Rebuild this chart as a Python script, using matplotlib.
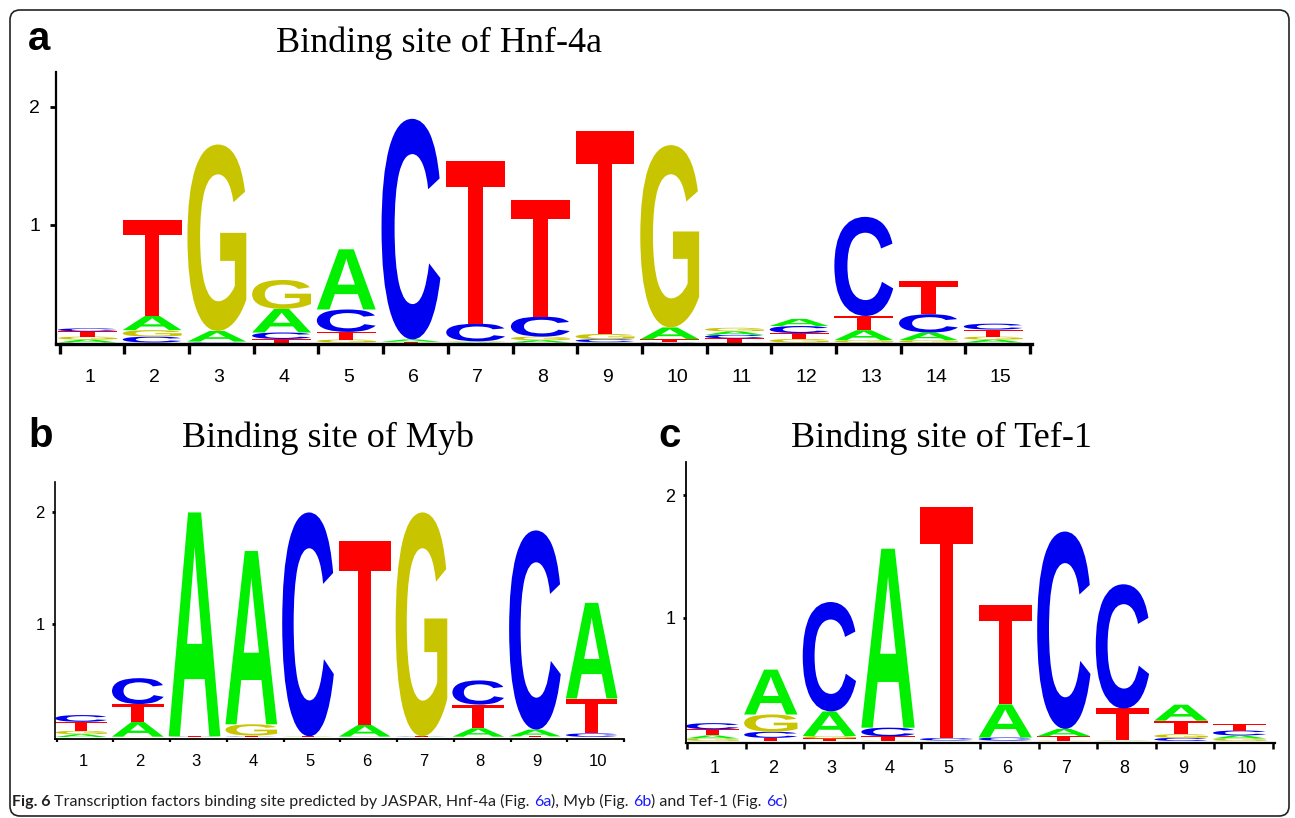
import matplotlib
matplotlib.use("Agg")
import matplotlib.pyplot as plt
from matplotlib.textpath import TextPath
from matplotlib.font_manager import FontProperties, findfont
from matplotlib.patches import PathPatch, FancyBboxPatch
from matplotlib.transforms import Affine2D

W, H = 1295, 818

# ---- data: letter heights (bits) per position, and stacking order bottom->top
hnf4a_order = ["AGTC", "CGAT", "CTAG", "TCAG", "GTCA", "TGAC", "AGCT", "AGCT",
               "ACGT", "CTAG", "TCAG", "GTCA", "GATC", "GACT", "AGTC"]
hnf4a_A = [0.025, 0.12, 0.09, 0.20, 0.51, 0.02, 0.005, 0.02, 0.003, 0.10, 0.03, 0.06, 0.085, 0.065, 0.025]
hnf4a_C = [0.025, 0.05, 0.004, 0.055, 0.19, 1.87, 0.15, 0.17, 0.025, 0.003, 0.03, 0.06, 0.84, 0.155, 0.05]
hnf4a_G = [0.025, 0.055, 1.58, 0.245, 0.025, 0.003, 0.005, 0.03, 0.045, 1.545, 0.03, 0.03, 0.02, 0.02, 0.025]
hnf4a_T = [0.045, 0.815, 0.004, 0.03, 0.065, 0.003, 1.38, 0.99, 1.72, 0.025, 0.035, 0.05, 0.12, 0.28, 0.06]

myb_order = ["AGTC", "GATC", "CGTA", "CTGA", "AGTC", "CGAT", "ACTG", "GATC", "GTAC", "GCTA"]
myb_A = [0.025, 0.13, 1.99, 1.54, 0.002, 0.105, 0.002, 0.075, 0.06, 0.85]
myb_C = [0.06, 0.23, 0.002, 0.003, 1.99, 0.002, 0.002, 0.215, 1.77, 0.03]
myb_G = [0.03, 0.003, 0.002, 0.10, 0.002, 0.002, 1.99, 0.003, 0.003, 0.002]
myb_T = [0.08, 0.16, 0.002, 0.01, 0.002, 1.635, 0.002, 0.21, 0.003, 0.31]

tef1_order = ["GATC", "TCGA", "TGAC", "GTCA", "AGCT", "GCAT", "GTAC", "AGTC", "CGTA", "GACT"]
tef1_A = [0.025, 0.365, 0.20, 1.455, 0.002, 0.27, 0.06, 0.002, 0.13, 0.025]
tef1_C = [0.05, 0.05, 0.89, 0.07, 0.02, 0.025, 1.605, 1.01, 0.025, 0.04]
tef1_G = [0.02, 0.14, 0.02, 0.003, 0.002, 0.003, 0.003, 0.002, 0.03, 0.02]
tef1_T = [0.05, 0.025, 0.02, 0.035, 1.88, 0.805, 0.035, 0.26, 0.11, 0.05]

titles = ["Binding site of Hnf-4a", "Binding site of Myb", "Binding site of Tef-1"]
panel_tags = ["a", "b", "c"]
base_colors = {"A": "#00f000", "C": "#0000f0", "G": "#c8c400", "T": "#ff0000"}

cap_font = "Lato"
tick_font = "Liberation Sans"
letter_font = FontProperties(family="Liberation Sans", weight="bold")


def draw_letter(ax, ch, xc, y0, w, h):
    if h <= 0:
        return
    tp = TextPath((0, 0), ch, size=1, prop=letter_font)
    bb = tp.get_extents()
    tr = (Affine2D().translate(-bb.x0, -bb.y0)
          .scale(w / bb.width, h / bb.height)
          .translate(xc - w / 2, y0))
    ax.add_patch(PathPatch(tr.transform_path(tp), facecolor=base_colors[ch],
                           edgecolor="none", lw=0))


def px_axes(left, right, top, bottom):
    return fig.add_axes([left / W, (H - bottom) / H, (right - left) / W, (bottom - top) / H])


def logo(ax, order, heights, xlim, ylim, style):
    n = len(order)
    for i, stack in enumerate(order):
        y = 0.0
        for ch in stack:
            h = heights[ch][i]
            draw_letter(ax, ch, i + 1, y, 0.91, h)
            y += h
    ax.set_xlim(*xlim)
    ax.set_ylim(*ylim)
    for s in ["top", "right"]:
        ax.spines[s].set_visible(False)
    ax.spines["left"].set_linewidth(style["lw_left"])
    ax.spines["bottom"].set_linewidth(style["lw_bottom"])
    # tick marks at column boundaries, numbers under the columns
    ax.set_xticks([k + 0.57 for k in range(n + 1)])
    ax.set_xticklabels([])
    ax.set_xticks([k + 1 - 0.05 for k in range(n)], [str(k + 1) for k in range(n)], minor=True)
    ax.tick_params(axis="x", which="major", direction="out", length=style["xlen"],
                   width=style["xw"], color="black")
    ax.tick_params(axis="x", which="minor", length=0, pad=style["xpad"],
                   labelsize=style["fs"])
    for lab in ax.get_xticklabels(minor=True):
        lab.set_ha("left")
        lab.set_family(tick_font)
    ax.set_yticks([1, 2], ["1", "2"])
    ax.tick_params(axis="y", direction="out", length=style["ylen"], width=2,
                   pad=style["ypad"], labelsize=style["fs"])
    for lab in ax.get_yticklabels():
        lab.set_family(tick_font)
    ax.patch.set_alpha(0)


fig = plt.figure(figsize=(W / 100, H / 100), dpi=100)

# background: rounded frame and caption
bg = fig.add_axes([0, 0, 1, 1])
bg.set_xlim(0, W)
bg.set_ylim(0, H)
bg.axis("off")
bg.add_patch(FancyBboxPatch((10, H - 816), 1279, 806,
                            boxstyle="round,pad=0,rounding_size=10",
                            fc="white", ec="#222222", lw=1.2))

ax_a = px_axes(55.6, 1032, 72.3, 344.3)
logo(ax_a, hnf4a_order, {"A": hnf4a_A, "C": hnf4a_C, "G": hnf4a_G, "T": hnf4a_T},
     (0.507, 15.6), (-0.015, 2.29),
     dict(lw_left=1.6, lw_bottom=2.4, xlen=7, xw=2.4, xpad=17.5, ylen=4, ypad=7, fs=14))

ax_b = px_axes(55, 624, 481.6, 738.7)
logo(ax_b, myb_order, {"A": myb_A, "C": myb_C, "G": myb_G, "T": myb_T},
     (0.54, 10.56), (-0.015, 2.27),
     dict(lw_left=1.2, lw_bottom=1.3, xlen=2.5, xw=1.6, xpad=11, ylen=2.5, ypad=5, fs=12))

ax_c = px_axes(686, 1274.8, 461.8, 742.8)
logo(ax_c, tef1_order, {"A": tef1_A, "C": tef1_C, "G": tef1_G, "T": tef1_T},
     (0.553, 10.6), (-0.015, 2.27),
     dict(lw_left=1.3, lw_bottom=1.6, xlen=4, xw=1.8, xpad=12.3, ylen=2.5, ypad=5, fs=13))

# titles and panel tags (pixel positions from top-left)
title_pos = [(439, 52), (328.5, 447), (941.5, 447)]
tag_pos = [(28, 50), (28, 447), (658, 447)]
for t, (x, y) in zip(titles, title_pos):
    bg.text(x, H - y, t, family="Liberation Serif", fontsize=26, ha="center", va="baseline")
for t, (x, y) in zip(panel_tags, tag_pos):
    bg.text(x, H - y, t, family="Liberation Sans", weight="bold", fontsize=29,
            ha="left", va="baseline")

# caption with bold lead and blue figure links
pieces = [("Fig. 6", "bold", "#231f20"),
          (" Transcription factors binding site predicted by JASPAR, Hnf-4a (Fig. ", "normal", "#231f20"),
          ("6a", "normal", "#1a1aff"),
          ("), Myb (Fig. ", "normal", "#231f20"),
          ("6b", "normal", "#1a1aff"),
          (") and Tef-1 (Fig. ", "normal", "#231f20"),
          ("6c", "normal", "#1a1aff"),
          (")", "normal", "#231f20")]
cap_size = 12
cap_texts = [bg.text(12, H - 806, pieces[0][0], family=cap_font, weight=pieces[0][1],
                     color=pieces[0][2], fontsize=cap_size, ha="left", va="baseline")]
for txt, wt, col in pieces[1:]:
    cap_texts.append(bg.annotate(txt, xy=(1, 0), xycoords=cap_texts[-1], xytext=(0, 0),
                                 textcoords="offset points", family=cap_font, weight=wt,
                                 color=col, fontsize=cap_size, ha="left", va="bottom"))

# fit caption to the reference line length (ends near x=785 px)
fig.canvas.draw()
right = cap_texts[-1].get_window_extent().x1
scale = (785 - 12) / (right - 12)
for t in cap_texts:
    t.set_fontsize(cap_size * scale)

fig.savefig("out.png", dpi=100)
